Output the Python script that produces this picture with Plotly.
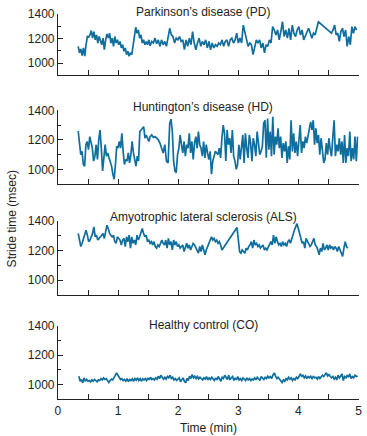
import numpy as np
import plotly.graph_objects as go

# ---------------- data (stride time in msec) ----------------
# time spans (start min, end min, number of samples) for each recorded stretch
pd_time_spans = [(0.337, 1.533, 56), (1.560, 4.332, 103), (4.549, 4.967, 17)]
pd_vals = [1136, 1083, 1115, 1061, 1123, 1056, 1149, 1216, 1211, 1229, 1264, 1203, 1256, 1189, 1229,
           1163, 1216, 1189, 1149, 1203, 1109, 1189, 1237, 1203, 1243, 1163, 1203, 1136, 1216, 1163,
           1189, 1149, 1176, 1123, 1149, 1096, 1123, 1069, 1096, 1056, 1083, 1069, 1136, 1203, 1291,
           1243, 1269, 1203, 1229, 1163, 1189, 1149, 1176, 1149, 1189, 1141, 1176, 1163, 1203, 1157,
           1189, 1136, 1189, 1149, 1176, 1136, 1203, 1283, 1229, 1216, 1163, 1203, 1189, 1216, 1176,
           1189, 1109, 1189, 1136, 1203, 1149, 1256, 1163, 1109, 1163, 1203, 1136, 1176, 1149, 1189,
           1123, 1176, 1109, 1163, 1123, 1149, 1136, 1163, 1149, 1189, 1136, 1176, 1189, 1136, 1189,
           1203, 1163, 1189, 1243, 1163, 1203, 1163, 1309, 1256, 1203, 1136, 1163, 1149, 1069, 1136,
           1189, 1163, 1189, 1123, 1163, 1083, 1149, 1136, 1189, 1163, 1296, 1269, 1229, 1269, 1189,
           1256, 1336, 1216, 1269, 1203, 1283, 1189, 1309, 1243, 1216, 1269, 1296, 1229, 1269, 1189,
           1216, 1256, 1283, 1243, 1203, 1243, 1229, 1283, 1336,
           1243, 1269, 1309, 1229, 1243, 1176, 1256, 1283, 1216, 1269, 1136, 1216, 1149, 1296, 1243,
           1296, 1269]

hd_time_spans = [(0.337, 1.533, 57), (1.560, 1.832, 11), (1.859, 4.984, 145)]
hd_vals = [1260, 1167, 1100, 1122, 1033, 1022, 1167, 1189, 1133, 1222, 1167, 1144, 1056, 1089, 1167,
           1067, 1200, 1267, 1144, 989, 1078, 1167, 1089, 1111, 1078, 1056, 1022, 967, 933, 1033,
           1156, 1144, 1189, 1144, 1244, 1122, 1033, 1067, 1056, 1111, 1044, 1100, 1189, 1111, 1056,
           1022, 1089, 1056, 1256, 1267, 1278, 1289, 1211, 1233, 1211, 1189, 1222, 1233, 1216, 1222,
           1211, 1200, 1178, 1144, 1111, 1167, 1056, 1044, 1311, 1340, 1256, 1056, 989, 978, 1100,
           1144, 1233, 1167, 1111, 1189, 1089, 1167, 1144, 1244, 1111, 1189, 1067, 1178, 1222, 1144,
           1256, 1167, 1144, 1089, 1189, 1078, 1167, 1111, 1067, 1122, 967, 1056, 1089, 1122, 1111,
           1100, 1144, 1078, 1211, 1300, 1244, 1056, 1267, 1167, 1211, 1111, 1267, 1089, 1056, 1000,
           1033, 1167, 1067, 1144, 1233, 1044, 1244, 1144, 1078, 1233, 1178, 1056, 1211, 1167, 1089,
           1256, 1178, 1100, 1122, 1156, 1311, 1333, 1078, 1344, 1133, 1256, 1089, 1356, 1100, 1222,
           1167, 1278, 1144, 1222, 1078, 1178, 1122, 1189, 1044, 1156, 1067, 1333, 1122, 1244, 1111,
           1189, 1089, 1233, 1300, 1111, 1189, 1144, 1222, 1178, 1233, 1278, 1322, 1267, 1333, 1167,
           1278, 1178, 1233, 1100, 1211, 1133, 1044, 1067, 1178, 1100, 1211, 1133, 1089, 1222, 1333,
           1089, 1167, 1122, 1211, 1100, 1189, 1044, 1233, 1044, 1144, 1089, 1256, 1056, 1144, 1067,
           1222, 1056, 1222]

als_time_spans = [(0.337, 2.728, 111), (2.978, 4.821, 86)]
als_vals = [1316, 1271, 1227, 1249, 1282, 1304, 1338, 1304, 1260, 1271, 1293, 1316, 1360, 1293, 1304,
            1271, 1282, 1293, 1304, 1316, 1282, 1327, 1371, 1349, 1316, 1304, 1293, 1304, 1260, 1249,
            1293, 1282, 1271, 1238, 1271, 1282, 1227, 1293, 1260, 1304, 1216, 1293, 1249, 1271, 1238,
            1304, 1271, 1293, 1327, 1349, 1316, 1293, 1304, 1260, 1271, 1249, 1260, 1238, 1260, 1227,
            1216, 1238, 1227, 1249, 1271, 1249, 1238, 1271, 1216, 1282, 1238, 1260, 1204, 1271, 1238,
            1260, 1227, 1238, 1216, 1227, 1238, 1193, 1227, 1249, 1216, 1238, 1204, 1227, 1249, 1238,
            1216, 1204, 1182, 1227, 1193, 1238, 1204, 1171, 1204, 1227, 1249, 1260, 1293, 1271, 1282,
            1260, 1271, 1249, 1260, 1238, 1204,
            1356, 1249, 1193, 1182, 1204, 1193, 1182, 1216, 1204, 1227, 1238, 1260, 1216, 1271, 1238,
            1249, 1227, 1238, 1216, 1227, 1238, 1204, 1216, 1204, 1227, 1249, 1260, 1238, 1304, 1249,
            1293, 1260, 1238, 1249, 1227, 1260, 1238, 1249, 1227, 1260, 1271, 1249, 1282, 1316, 1338,
            1360, 1382, 1349, 1316, 1293, 1249, 1260, 1216, 1282, 1260, 1249, 1227, 1238, 1260, 1282,
            1238, 1227, 1204, 1171, 1216, 1193, 1249, 1204, 1216, 1238, 1204, 1238, 1216, 1227, 1204,
            1227, 1216, 1193, 1227, 1204, 1182, 1160, 1216, 1260, 1227, 1216]

co_time_spans = [(0.348, 4.984, 215)]
co_vals = [1056, 1022, 1034, 1011, 1045, 1022, 1034, 1022, 1027, 1018, 1031, 1022, 1034, 1027, 1018,
           1031, 1027, 1040, 1031, 1045, 1034, 1040, 1027, 1013, 1027, 1036, 1031, 1049, 1067, 1079,
           1063, 1045, 1034, 1040, 1027, 1034, 1022, 1040, 1018, 1034, 1027, 1038, 1022, 1040, 1029,
           1045, 1027, 1040, 1022, 1038, 1031, 1040, 1027, 1045, 1031, 1049, 1034, 1040, 1031, 1045,
           1036, 1056, 1040, 1063, 1045, 1036, 1049, 1036, 1054, 1045, 1063, 1040, 1049, 1031, 1040,
           1027, 1036, 1045, 1018, 1031, 1045, 1022, 1011, 1040, 1027, 1056, 1040, 1067, 1045, 1056,
           1040, 1054, 1038, 1049, 1040, 1031, 1045, 1036, 1054, 1031, 1045, 1034, 1049, 1040, 1027,
           1045, 1031, 1054, 1040, 1022, 1049, 1040, 1063, 1049, 1034, 1063, 1031, 1045, 1054, 1027,
           1045, 1031, 1054, 1031, 1040, 1027, 1045, 1036, 1027, 1045, 1031, 1040, 1027, 1038, 1031,
           1045, 1031, 1049, 1036, 1027, 1054, 1040, 1034, 1049, 1040, 1056, 1045, 1054, 1040, 1063,
           1079, 1056, 1040, 1049, 1036, 1027, 1013, 1031, 1022, 1040, 1031, 1049, 1036, 1045, 1027,
           1040, 1031, 1049, 1040, 1054, 1072, 1056, 1063, 1045, 1058, 1040, 1054, 1045, 1056, 1040,
           1054, 1045, 1049, 1036, 1054, 1040, 1049, 1063, 1054, 1072, 1079, 1058, 1067, 1054, 1045,
           1054, 1036, 1049, 1031, 1063, 1045, 1058, 1072, 1027, 1054, 1045, 1063, 1049, 1072, 1040,
           1054, 1045, 1063, 1054, 1058]

panel_titles = ["Parkinson\u2019s disease (PD)", "Huntington\u2019s disease (HD)",
                "Amyotrophic lateral sclerosis (ALS)", "Healthy control (CO)"]
x_tick_vals = [0, 1, 2, 3, 4, 5]
y_tick_vals = [1000, 1200, 1400]
y_minor_vals = [1100, 1300]

# ---------------- figure ----------------
W, H = 367, 436
LINE = "#0f6e9e"
AX = "#222222"
FONT = "Liberation Sans, Arial, Helvetica, sans-serif"


def times_from_spans(spans):
    return np.concatenate([np.linspace(a, b, n) for a, b, n in spans])


panels = [(pd_time_spans, pd_vals), (hd_time_spans, hd_vals),
          (als_time_spans, als_vals), (co_time_spans, co_vals)]

# pixel extents (top, bottom) of each panel's y-range [900,1400]
panel_px = [(7, 69.5), (105, 180), (217.5, 292.5), (324, 398.5)]
title_px = [5, 102, 213, 323]
x_dom = [56 / W, 362.5 / W]

fig = go.Figure()
layout = dict(
    width=W, height=H,
    margin=dict(l=0, r=0, t=0, b=0),
    paper_bgcolor="white", plot_bgcolor="white",
    showlegend=False,
    font=dict(family=FONT, size=12, color=AX),
)
annotations = []
for i, (spans, vals) in enumerate(panels):
    k = "" if i == 0 else str(i + 1)
    xs = times_from_spans(spans)
    ys = np.asarray(vals, float)
    fig.add_trace(go.Scatter(x=xs, y=ys, mode="lines", xaxis="x" + k, yaxis="y" + k,
                             line=dict(color=LINE, width=1.7), hoverinfo="skip"))
    top, bot = panel_px[i]
    bottom_panel = i == len(panels) - 1
    layout["xaxis" + k] = dict(
        domain=x_dom, range=[0, 5], anchor="y" + k,
        showline=True, linecolor=AX, linewidth=1, showgrid=False, zeroline=False,
        tickmode="array", tickvals=x_tick_vals, ticks="inside", ticklen=5, tickcolor=AX,
        showticklabels=bottom_panel, tickfont=dict(size=12, color=AX),
        minor=dict(dtick=0.5, tick0=0, ticks="inside", ticklen=5, tickcolor=AX, showgrid=False),
        fixedrange=True,
    )
    layout["yaxis" + k] = dict(
        domain=[1 - bot / H, 1 - top / H], range=[900, 1400], anchor="x" + k,
        showline=True, linecolor=AX, linewidth=1, showgrid=False, zeroline=False,
        tickmode="array", tickvals=y_tick_vals, ticks="inside", ticklen=5, tickcolor=AX,
        tickfont=dict(size=12, color=AX),
        minor=dict(tickmode="array", tickvals=y_minor_vals, ticks="inside", ticklen=3,
                   tickcolor=AX, showgrid=False),
        fixedrange=True,
    )
    annotations.append(dict(text=panel_titles[i], xref="paper", yref="paper",
                            x=204 / W, y=1 - title_px[i] / H, xanchor="center", yanchor="middle",
                            showarrow=False, font=dict(size=12, color=AX)))

annotations.append(dict(text="Stride time (msec)", xref="paper", yref="paper", x=9 / W, y=1 - 215 / H,
                        xanchor="center", yanchor="middle", textangle=-90, showarrow=False,
                        font=dict(size=12, color=AX)))
annotations.append(dict(text="Time (min)", xref="paper", yref="paper", x=209 / W, y=1 - 428 / H,
                        xanchor="center", yanchor="middle", showarrow=False,
                        font=dict(size=12, color=AX)))
layout["annotations"] = annotations
fig.update_layout(**layout)
fig.write_html("out.html", config={"displayModeBar": False},
               post_script="document.body.style.margin='0';document.body.style.overflow='hidden';")
